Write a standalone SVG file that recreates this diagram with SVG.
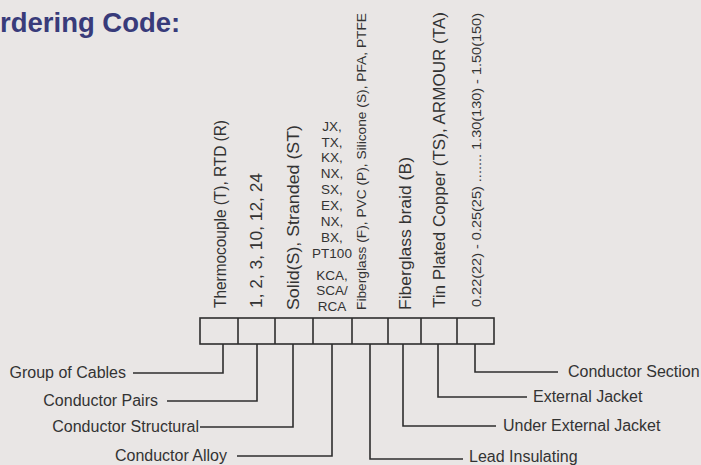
<svg xmlns="http://www.w3.org/2000/svg" width="701" height="465" viewBox="0 0 701 465">
<style>
  .lbl { font-family: "Liberation Sans", Arial, sans-serif; font-size: 16px; fill: #333; }
  .v { font-family: "Liberation Sans", Arial, sans-serif; font-size: 17px; fill: #333; }
  .vs { font-family: "Liberation Sans", Arial, sans-serif; font-size: 13px; fill: #333; }
  .st { font-family: "Liberation Sans", Arial, sans-serif; font-size: 13.5px; fill: #333; text-anchor: middle; }
  .ln { fill: none; stroke: #2e2e2e; stroke-width: 1.6; }
  .box { fill: none; stroke: #2e2e2e; stroke-width: 1.6; }
</style>
<rect width="701" height="465" fill="#e9e6e5"/>
<text id="title" x="0" y="32" font-family="Liberation Sans, Arial, sans-serif" font-size="27.5" font-weight="bold" fill="#383b7a">rdering Code:</text>

<g id="code-boxes">
  <rect class="box" x="200" y="318" width="294" height="26"/>
  <path class="ln" d="M238 318V344M275 318V344M313 318V344M352 318V344M388 318V344M421 318V344M457 318V344"/>
</g>

<g id="col1"><text class="v" transform="translate(226,308) rotate(-90)" textLength="188" lengthAdjust="spacingAndGlyphs">Thermocouple (T), RTD (R)</text></g>
<g id="col2"><text class="v" transform="translate(262,308) rotate(-90)" textLength="135" lengthAdjust="spacingAndGlyphs">1, 2, 3, 10, 12, 24</text></g>
<g id="col3"><text class="v" transform="translate(299,310) rotate(-90)" textLength="185" lengthAdjust="spacingAndGlyphs">Solid(S), Stranded (ST)</text></g>
<g id="col4">
  <text class="st" x="332" y="131">JX,</text>
  <text class="st" x="332" y="147">TX,</text>
  <text class="st" x="332" y="162">KX,</text>
  <text class="st" x="332" y="178">NX,</text>
  <text class="st" x="332" y="194">SX,</text>
  <text class="st" x="332" y="210">EX,</text>
  <text class="st" x="332" y="226">NX,</text>
  <text class="st" x="332" y="242">BX,</text>
  <text class="st" x="332" y="258">PT100</text>
  <text class="st" x="332" y="280">KCA,</text>
  <text class="st" x="332" y="295">SCA/</text>
  <text class="st" x="332" y="311">RCA</text>
</g>
<g id="col5"><text class="vs" transform="translate(366,310) rotate(-90)" textLength="297" lengthAdjust="spacingAndGlyphs">Fiberglass (F), PVC (P), Silicone (S), PFA, PTFE</text></g>
<g id="col6"><text class="v" transform="translate(411,310) rotate(-90)" textLength="153" lengthAdjust="spacingAndGlyphs">Fiberglass braid (B)</text></g>
<g id="col7"><text class="v" transform="translate(445,308) rotate(-90)" textLength="296" lengthAdjust="spacingAndGlyphs">Tin Plated Copper (TS), ARMOUR (TA)</text></g>
<g id="col8"><text class="vs" transform="translate(481,307) rotate(-90)" textLength="294" lengthAdjust="spacingAndGlyphs">0.22(22) - 0.25(25) ....... 1.30(130) - 1.50(150)</text></g>

<g id="connectors">
  <path class="ln" d="M223 344V373H133"/>
  <path class="ln" d="M257 344V401H167"/>
  <path class="ln" d="M293 344V427H200"/>
  <path class="ln" d="M332 344V456H237"/>
  <path class="ln" d="M370 344V459H463"/>
  <path class="ln" d="M403 344V426H496"/>
  <path class="ln" d="M438 344V397H527"/>
  <path class="ln" d="M475 344V372H558"/>
</g>

<g id="lbl-group"><text class="lbl" x="126" y="378" text-anchor="end">Group of Cables</text></g>
<g id="lbl-pairs"><text class="lbl" x="158" y="406" text-anchor="end">Conductor Pairs</text></g>
<g id="lbl-structural"><text class="lbl" x="199" y="432" text-anchor="end">Conductor Structural</text></g>
<g id="lbl-alloy"><text class="lbl" x="227" y="461" text-anchor="end">Conductor Alloy</text></g>
<g id="lbl-lead"><text class="lbl" x="469" y="462">Lead Insulating</text></g>
<g id="lbl-under"><text class="lbl" x="503" y="431">Under External Jacket</text></g>
<g id="lbl-external"><text class="lbl" x="533" y="402">External Jacket</text></g>
<g id="lbl-section"><text class="lbl" x="568" y="377">Conductor Section</text></g>
</svg>
